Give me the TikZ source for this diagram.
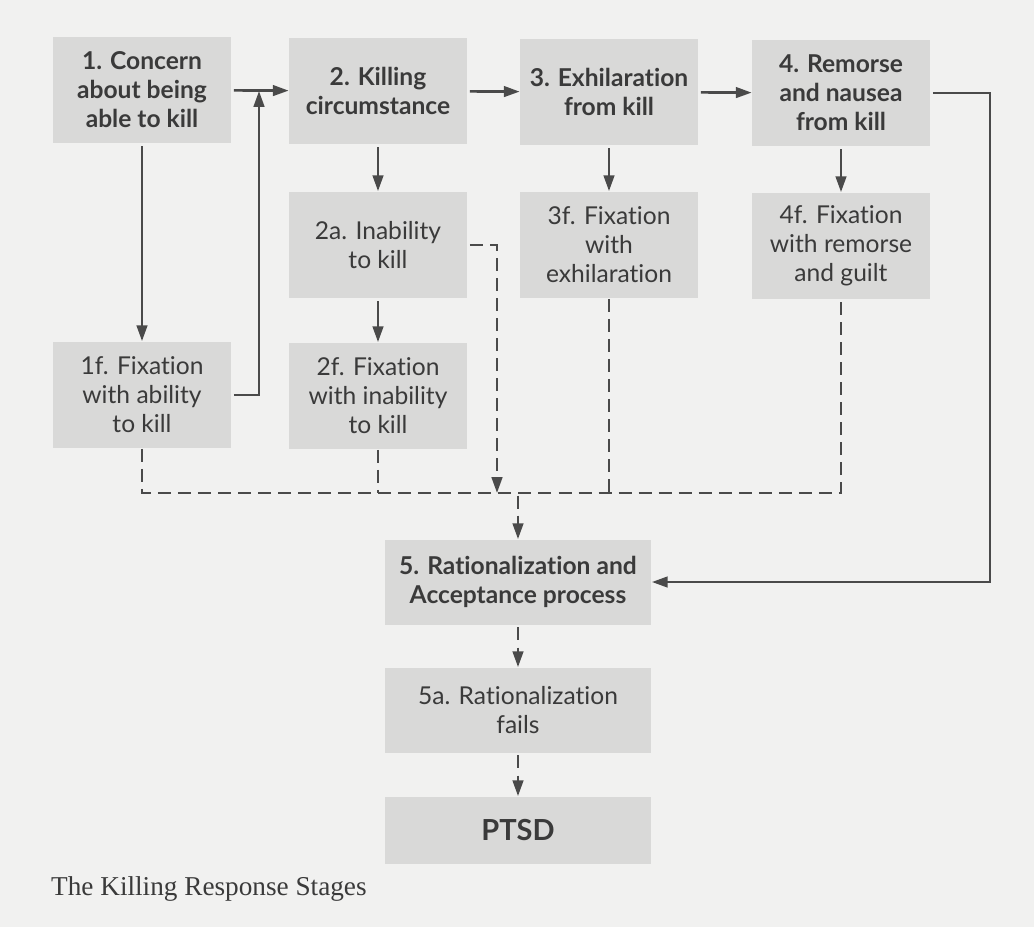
\documentclass[tikz,border=0pt]{standalone}
\usepackage{fontspec}
\setmainfont{Liberation Serif}
\setsansfont{Lato}[Ligatures={NoCommon,NoContextual}]
\usetikzlibrary{arrows.meta}
\definecolor{PageGray}{HTML}{F1F1F0}
\definecolor{BoxGray}{HTML}{D9D9D8}
\definecolor{InkGray}{HTML}{3A3A3A}
\definecolor{LineGray}{HTML}{4A4A4A}

\begin{document}
\begin{tikzpicture}[x=0.02cm,y=-0.02cm,
  every node/.style={text=InkGray},
  stage/.style={fill=BoxGray, inner sep=0pt, align=center,
    minimum width=3.56cm, minimum height=2.14cm,
    font=\sffamily\bfseries\fontsize{14}{16.5}\selectfont},
  fixbox/.style={stage, font=\sffamily\fontsize{14}{16.5}\selectfont},
  widebox/.style={minimum width=5.34cm, minimum height=1.7cm},
  flow/.style={draw=LineGray, line width=1.5pt, shorten <=1.5pt,
    -{Triangle[length=9pt,width=6pt]}},
  dashflow/.style={flow, dash pattern=on 7.4pt off 4pt},
  dashrule/.style={draw=LineGray, line width=1.5pt, dash pattern=on 7.4pt off 4pt}]

  \fill[PageGray] (0,0) rectangle (1034,927);
  \useasboundingbox (0,0) rectangle (1034,927);

  \node[stage] (concern) at (142,90) {1. Concern\\about being\\able to kill};
  \node[stage] (killing) at (378,91) {2. Killing\\circumstance};
  \node[stage] (exhil) at (609,92) {3. Exhilaration\\from kill};
  \node[stage] (remorse) at (841,93) {4. Remorse\\and nausea\\from kill};

  \node[fixbox] (inability) at (378,245) {2a. Inability\\to kill};
  \node[fixbox] (fixexhil) at (609,245) {3f. Fixation\\with\\exhilaration};
  \node[fixbox] (fixremorse) at (841,246) {4f. Fixation\\with remorse\\and guilt};
  \node[fixbox] (fixability) at (142,395) {1f. Fixation\\with ability\\to kill};
  \node[fixbox] (fixinability) at (378,396) {2f. Fixation\\with inability\\to kill};

  \node[stage, widebox] (ration) at (518,582) {5. Rationalization and\\Acceptance process};
  \node[fixbox, widebox] (fails) at (518,710) {5a. Rationalization\\fails};
  \node[stage, widebox, minimum height=1.34cm, font=\sffamily\bfseries\fontsize{16.5}{18}\selectfont] (ptsd) at (518,830) {PTSD};

  \node[anchor=base west, font=\rmfamily\fontsize{15.5}{18}\selectfont] (caption) at (45,895) {The Killing Response Stages};

  \coordinate (rejoin) at (259,91);
  \coordinate (rturn) at (990,300);
  \coordinate (dbus) at (841,493);
  \coordinate (adrop) at (497,493);

  \draw[flow] (concern) -- (killing);
  \draw[flow] (killing) -- (exhil);
  \draw[flow] (exhil) -- (remorse);
  \draw[flow] (concern) -- (fixability);
  \draw[flow] (fixability.east) -| (rejoin);
  \draw[flow] (killing) -- (inability);
  \draw[flow] (inability) -- (fixinability);
  \draw[flow] (exhil) -- (fixexhil);
  \draw[flow] (remorse) -- (fixremorse);
  \draw[flow] (remorse.east) -| (rturn) |- (ration.east);

  \draw[dashrule] (fixability.south) |- (dbus) -- (fixremorse.south);
  \draw[dashrule] (fixinability.south) -- (fixinability.south |- dbus);
  \draw[dashrule] (fixexhil.south) -- (fixexhil.south |- dbus);
  \draw[dashflow] (inability.east) -| (adrop);
  \draw[dashflow] (ration.north |- dbus) -- (ration.north);
  \draw[dashflow] (ration) -- (fails);
  \draw[dashflow] (fails) -- (ptsd);
\end{tikzpicture}
\end{document}
